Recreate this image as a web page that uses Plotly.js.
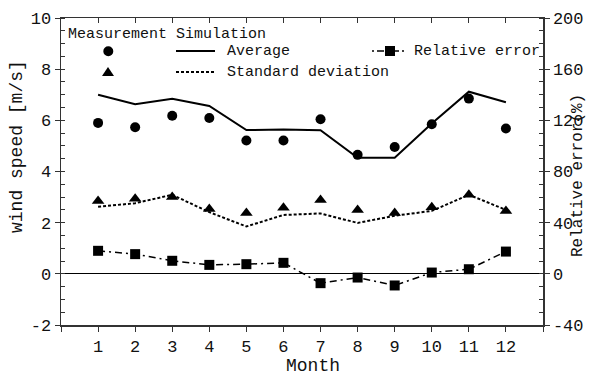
<!DOCTYPE html>
<html>
<head>
<meta charset="utf-8">
<script src="https://cdn.plot.ly/plotly-3.0.1.min.js"></script>
<style>html,body{margin:0;padding:0;background:#fff;}#chart{width:596px;height:376px;}</style>
</head>
<body>
<div id="chart"></div>
<script>
const months = [1,2,3,4,5,6,7,8,9,10,11,12];
const measAvg = [5.9,5.73,6.18,6.09,5.21,5.21,6.04,4.65,4.96,5.85,6.85,5.68];
const simAvg  = [7.0,6.63,6.84,6.56,5.62,5.64,5.61,4.54,4.54,5.88,7.12,6.71];
const measStd = [2.85,2.93,3.0,2.53,2.38,2.58,2.89,2.5,2.38,2.6,3.09,2.46];
const simStd  = [2.62,2.76,3.09,2.41,1.85,2.3,2.36,1.99,2.27,2.46,3.09,2.5];
const relErr  = [18,15.4,10.2,7.0,7.55,8.6,-7.3,-2.9,-9.1,1.0,3.6,17.4];

const xTickVals = [0,1,2,3,4,5,6,7,8,9,10,11,12,13];
const xTickText = ['','1','2','3','4','5','6','7','8','9','10','11','12',''];
const yTickVals = [-2,0,2,4,6,8,10];
const yTickText = ['-2','0','2','4','6','8','10'];
const y2TickVals = [-40,0,40,80,120,160,200];
const y2TickText = ['-40','0','40','80','120','160','200'];

const FONT = 'Liberation Mono, Courier New, monospace';
const ink = '#000';
const axisCol = '#333';

// plot area in pixels
const L = 61, R = 543, T = 18, B = 325;
const px = x => (x - L) / (R - L);
const py = y => (B - y) / (B - T);

const traces = [
  {x: months, y: simAvg, mode: 'lines', line: {color: ink, width: 2}, hoverinfo: 'skip'},
  {x: months, y: simStd, mode: 'lines', line: {color: ink, width: 2, dash: '3px,2px'}, hoverinfo: 'skip'},
  {x: months, y: measAvg, mode: 'markers', marker: {symbol: 'circle', size: 10, color: ink}},
  {x: months, y: measStd, mode: 'markers', marker: {symbol: 'triangle-up', size: 11, color: ink}},
  {x: months, y: relErr, xaxis: 'x2', yaxis: 'y2', mode: 'lines+markers',
   line: {color: ink, width: 1.5, dash: '7px,4px,2px,4px'},
   marker: {symbol: 'square', size: 10, color: ink}}
];

const legFont = {family: FONT, size: 15, color: '#111'};
const titleFont = {family: FONT, size: 18, color: '#111'};
const annotations = [
  {xref: 'paper', yref: 'paper', x: px(66), y: py(34), xanchor: 'left', yanchor: 'middle', showarrow: false,
   text: 'Measurement Simulation', font: legFont},
  {xref: 'paper', yref: 'paper', x: px(225), y: py(51), xanchor: 'left', yanchor: 'middle', showarrow: false,
   text: 'Average', font: legFont},
  {xref: 'paper', yref: 'paper', x: px(225), y: py(72), xanchor: 'left', yanchor: 'middle', showarrow: false,
   text: 'Standard deviation', font: legFont},
  {xref: 'paper', yref: 'paper', x: px(412), y: py(51), xanchor: 'left', yanchor: 'middle', showarrow: false,
   text: 'Relative error', font: legFont},
  {xref: 'paper', yref: 'paper', x: px(578), y: py(176), xanchor: 'center', yanchor: 'middle',
   showarrow: false, textangle: -90, text: 'Relative error(%)', font: {family: FONT, size: 16, color: '#111'}},
  {xref: 'paper', yref: 'paper', x: px(17), y: py(147), xanchor: 'center', yanchor: 'middle',
   showarrow: false, textangle: -90, text: 'wind speed [m/s]', font: titleFont},
  {xref: 'paper', yref: 'paper', x: px(313), y: py(366), xanchor: 'center', yanchor: 'middle',
   showarrow: false, text: 'Month', font: titleFont}
];

const shapes = [
  // legend symbols
  {type: 'circle', xref: 'paper', yref: 'paper', x0: px(103.3), x1: px(113.3), y0: py(46.3), y1: py(56.3),
   fillcolor: ink, line: {width: 0}},
  {type: 'path', xref: 'paper', yref: 'paper',
   path: `M ${px(102)} ${py(76)} L ${px(114)} ${py(76)} L ${px(108)} ${py(67)} Z`,
   fillcolor: ink, line: {width: 0}},
  {type: 'line', xref: 'paper', yref: 'paper', x0: px(176), x1: px(215), y0: py(51), y1: py(51),
   line: {color: ink, width: 2}},
  {type: 'line', xref: 'paper', yref: 'paper', x0: px(176), x1: px(215), y0: py(72), y1: py(72),
   line: {color: ink, width: 2, dash: '3px,2px'}},
  {type: 'line', xref: 'paper', yref: 'paper', x0: px(372), x1: px(404), y0: py(51), y1: py(51),
   line: {color: ink, width: 1.5, dash: '2px,3px,7px,3px'}},
  {type: 'rect', xref: 'paper', yref: 'paper', x0: px(385), x1: px(395), y0: py(46), y1: py(56),
   fillcolor: ink, line: {width: 0}}
];

const tickFont = {family: FONT, size: 17, color: '#111'};

const layout = {
  width: 596, height: 376,
  margin: {l: L, r: 596 - R, t: T, b: 376 - B, pad: 0},
  paper_bgcolor: '#fff', plot_bgcolor: '#fff',
  showlegend: false,
  font: {family: FONT, color: '#111'},
  xaxis: {
    range: [0, 13], tickvals: xTickVals, ticktext: xTickText,
    ticks: 'outside', ticklen: 5, tickcolor: axisCol, tickwidth: 1,
    showline: true, linecolor: axisCol, linewidth: 1.5, showgrid: false, zeroline: false,
    tickfont: tickFont
  },
  xaxis2: {
    range: [0, 13], overlaying: 'x', side: 'top', tickvals: xTickVals,
    ticks: 'inside', ticklen: 5, tickcolor: axisCol, showticklabels: false,
    showline: true, linecolor: axisCol, linewidth: 1.5, showgrid: false, zeroline: false
  },
  yaxis: {
    range: [-2, 10], tickvals: yTickVals, ticktext: yTickText,
    ticks: 'outside', ticklen: 5, tickcolor: axisCol,
    minor: {dtick: 0.5, ticks: 'inside', ticklen: 4, tickcolor: axisCol, showgrid: false},
    showline: true, linecolor: axisCol, linewidth: 1.5, showgrid: false,
    zeroline: true, zerolinecolor: ink, zerolinewidth: 1,
    tickfont: tickFont
  },
  yaxis2: {
    range: [-40, 200], overlaying: 'y', side: 'right', tickvals: y2TickVals, ticktext: y2TickText,
    ticks: 'outside', ticklen: 5, tickcolor: axisCol,
    minor: {dtick: 10, ticks: 'inside', ticklen: 4, tickcolor: axisCol, showgrid: false},
    showline: true, linecolor: axisCol, linewidth: 1.5, showgrid: false, zeroline: false,
    tickfont: tickFont
  },
  annotations: annotations,
  shapes: shapes
};

Plotly.newPlot('chart', traces, layout, {staticPlot: true, displayModeBar: false});
</script>
</body>
</html>
